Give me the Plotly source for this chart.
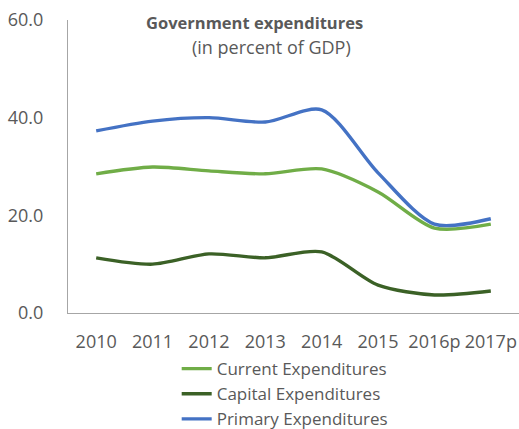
import plotly.graph_objects as go

years = ["2010", "2011", "2012", "2013", "2014", "2015", "2016p", "2017p"]
current_exp = [28.5, 29.9, 29.1, 28.5, 29.5, 24.8, 17.4, 18.2]
capital_exp = [11.3, 10.0, 12.1, 11.3, 12.5, 5.7, 3.7, 4.5]
primary_exp = [37.3, 39.3, 40.0, 39.1, 41.6, 28.7, 18.2, 19.3]

series = [
    ("Current Expenditures", current_exp, "#70AD47"),
    ("Capital Expenditures", capital_exp, "#3B6126"),
    ("Primary Expenditures", primary_exp, "#4472C4"),
]

font_family = "'Open Sans', Lato, sans-serif"
text_color = "#595959"

fig = go.Figure()
for name, vals, color in series:
    fig.add_trace(go.Scatter(
        x=years, y=vals, name=name, mode="lines",
        line=dict(color=color, width=3.4, shape="spline", smoothing=0.8),
    ))

fig.update_layout(
    width=519, height=429,
    margin=dict(l=68, r=0, t=20, b=116, autoexpand=False),
    paper_bgcolor="white", plot_bgcolor="white",
    font=dict(family=font_family, size=18, color=text_color),
    showlegend=True,
    legend=dict(
        x=0.241, y=-0.13, xanchor="left", yanchor="top",
        orientation="v", font=dict(size=17, color=text_color),
        bgcolor="rgba(0,0,0,0)", tracegroupgap=0, itemwidth=30,
    ),
    annotations=[
        dict(text="<b>Government expenditures</b>", x=0.414, y=0.993,
             xref="paper", yref="paper", xanchor="center", yanchor="middle",
             showarrow=False, font=dict(size=16.5, color=text_color)),
        dict(text="(in percent of GDP)", x=0.451, y=0.908,
             xref="paper", yref="paper", xanchor="center", yanchor="middle",
             showarrow=False, font=dict(size=18, color=text_color)),
    ],
)

fig.update_xaxes(
    type="category", range=[-0.5, 7.5],
    showline=True, linecolor="#A6A6A6", linewidth=1,
    showgrid=False, ticks="", ticklabelstandoff=12,
    tickfont=dict(size=18, color=text_color),
)
fig.update_yaxes(
    range=[0, 60], tickvals=[0, 20, 40, 60], tickformat=".1f",
    showline=True, linecolor="#A6A6A6", linewidth=1,
    showgrid=False, zeroline=False, ticks="", ticklabelstandoff=20,
    tickfont=dict(size=18, color=text_color),
)

fig.write_html("out.html")
